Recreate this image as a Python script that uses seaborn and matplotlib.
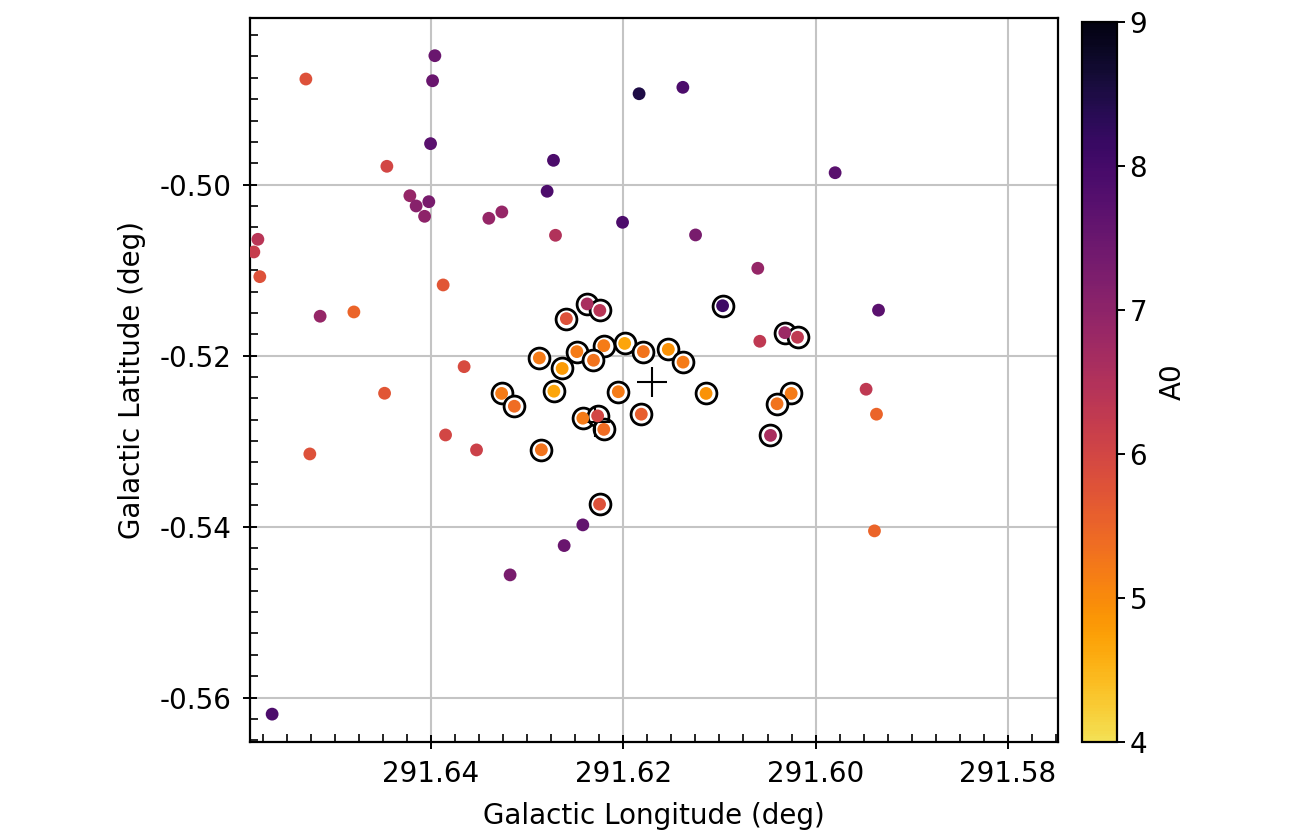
import numpy as np
import pandas as pd
import matplotlib
matplotlib.use("Agg")
import matplotlib.pyplot as plt
import seaborn as sns
from matplotlib.colors import ListedColormap, Normalize
from matplotlib.ticker import MultipleLocator, FormatStrFormatter
import matplotlib.cm as cm

sns.set_theme(style="white")
plt.rcParams['font.family'] = ['DejaVu Sans']
plt.rcParams['axes.unicode_minus'] = False
plt.rcParams['text.color'] = 'black'
plt.rcParams['axes.labelcolor'] = 'black'
plt.rcParams['xtick.color'] = 'black'
plt.rcParams['ytick.color'] = 'black'

# ---------------- data ----------------
field_glon = [291.63958, 291.65299, 291.63982, 291.61835, 291.64003, 291.62725,
              291.64457, 291.62791, 291.64218, 291.64021, 291.64153, 291.64065,
              291.63262, 291.63397, 291.62007, 291.62704, 291.65798, 291.65840,
              291.65778, 291.63872, 291.65151, 291.64800, 291.61380, 291.59797,
              291.61248, 291.60601, 291.59346, 291.60580, 291.59475, 291.59367,
              291.59388, 291.63654, 291.64481, 291.63847, 291.63525, 291.65258,
              291.62420, 291.62614, 291.63176, 291.65650]
field_glat = [-0.48491, -0.48764, -0.48784, -0.48936, -0.49520, -0.49715,
              -0.49785, -0.50077, -0.50129, -0.50199, -0.50249, -0.50370,
              -0.50319, -0.50393, -0.50440, -0.50592, -0.50639, -0.50787,
              -0.51076, -0.51173, -0.51539, -0.51489, -0.48861, -0.49860,
              -0.50588, -0.50978, -0.51468, -0.51832, -0.52393, -0.52685,
              -0.54050, -0.52129, -0.52440, -0.52928, -0.53103, -0.53150,
              -0.53980, -0.54222, -0.54565, -0.56194]
field_a0 = [7.5, 5.8, 7.5, 8.5, 7.7, 7.9,
            6.0, 7.9, 6.9, 7.3, 7.1, 7.0,
            6.9, 6.9, 7.9, 6.5, 6.4, 6.2,
            5.8, 5.7, 6.9, 5.5, 7.9, 7.7,
            7.3, 6.9, 7.7, 6.3, 6.3, 5.5,
            5.5, 5.9, 5.7, 6.0, 6.1, 5.8,
            7.6, 7.5, 7.3, 7.9]

member_glon = [291.60967, 291.60320, 291.60188, 291.61531, 291.61378, 291.61139,
               291.60254, 291.60401, 291.60469, 291.62375, 291.62243, 291.62591,
               291.62202, 291.61985, 291.61791, 291.62482, 291.62872, 291.62309,
               291.62635, 291.63264, 291.62721, 291.62051, 291.63132, 291.62420,
               291.62266, 291.62202, 291.61812, 291.62851, 291.62246]
member_glat = [-0.51416, -0.51731, -0.51785, -0.51927, -0.52076, -0.52442,
               -0.52442, -0.52563, -0.52933, -0.51395, -0.51471, -0.51567,
               -0.51883, -0.51857, -0.51953, -0.51953, -0.52027, -0.52054,
               -0.52150, -0.52442, -0.52416, -0.52422, -0.52592, -0.52732,
               -0.52705, -0.52863, -0.52685, -0.53101, -0.53738]
member_a0 = [8.1, 6.8, 6.3, 4.9, 5.2, 4.9,
             5.2, 5.3, 6.6, 6.6, 6.4, 5.8,
             5.2, 4.7, 5.3, 5.2, 5.2, 5.3,
             4.8, 5.2, 4.7, 5.2, 5.4, 5.2,
             6.0, 5.4, 5.6, 5.3, 5.8]

cross_glon = [291.61700, 291.62295]
cross_glat = [-0.52304, -0.52772]

a0_ticks = [4, 5, 6, 7, 8, 9]
lon_ticks = [291.64, 291.62, 291.60, 291.58]
lat_ticks = [-0.50, -0.52, -0.54, -0.56]

# ---------------- build tables ----------------
field = pd.DataFrame({"glon": field_glon, "glat": field_glat, "A0": field_a0})
members = pd.DataFrame({"glon": member_glon, "glat": member_glat, "A0": member_a0})
stars = pd.concat([field, members], ignore_index=True)
crosses = pd.DataFrame({"glon": cross_glon, "glat": cross_glat})

cmap = ListedColormap(plt.cm.inferno_r(np.linspace(0.08, 0.97, 256)))
norm = Normalize(vmin=4, vmax=9)

fig = plt.figure(figsize=(13.09, 8.34), dpi=100)
ax = fig.add_axes([250/1309, 92/834, 808/1309, 724/834])
cax = fig.add_axes([1082/1309, 92/834, 35/1309, 720/834])

ax.set_axisbelow(True)
ax.grid(True, color="#c4c4c4", linewidth=1.5)

# white-filled rings around members
sns.scatterplot(data=members, x="glon", y="glat", ax=ax, marker="o", s=225,
                facecolor="white", edgecolor="black", linewidth=2.0,
                zorder=3, legend=False)
# crosses
sns.scatterplot(data=crosses, x="glon", y="glat", ax=ax, marker="+", s=480,
                color="black", linewidth=1.5, zorder=4, legend=False)
# coloured stars
sns.scatterplot(data=stars, x="glon", y="glat", hue="A0", palette=cmap,
                hue_norm=norm, ax=ax, s=85, linewidth=0, zorder=5, legend=False)

ax.set_xlim(291.6588, 291.5748)
ax.set_ylim(-0.5652, -0.4805)
ax.set_xticks(lon_ticks)
ax.set_yticks(lat_ticks)
ax.xaxis.set_major_formatter(FormatStrFormatter("%.2f"))
ax.yaxis.set_major_formatter(FormatStrFormatter("%.2f"))
ax.xaxis.set_minor_locator(MultipleLocator(0.0025))
ax.yaxis.set_minor_locator(MultipleLocator(0.0025))
ax.tick_params(which="major", direction="inout", length=10, width=1.4,
               color="black", labelcolor="black", labelsize=20, pad=8,
               bottom=True, left=True, top=False, right=False)
ax.tick_params(which="minor", direction="in", length=6, width=1.2,
               color="black", bottom=True, left=True, top=False, right=False)
for sp in ax.spines.values():
    sp.set_color("black")
    sp.set_linewidth(1.6)

ax.set_xlabel("Galactic Longitude (deg)", fontsize=20, labelpad=10, color="black")
ax.set_ylabel("Galactic Latitude (deg)", fontsize=20, labelpad=10, color="black")

sm = cm.ScalarMappable(norm=norm, cmap=cmap)
cb = fig.colorbar(sm, cax=cax)
cb.set_ticks(a0_ticks)
cb.ax.tick_params(labelsize=20, length=6, width=1.4, direction="out", pad=3,
                  color="black", labelcolor="black")
cb.outline.set_linewidth(1.6)
cb.outline.set_edgecolor("black")
cb.set_label("A0", fontsize=20, labelpad=8, color="black")

fig.savefig("out.png", dpi=100)
